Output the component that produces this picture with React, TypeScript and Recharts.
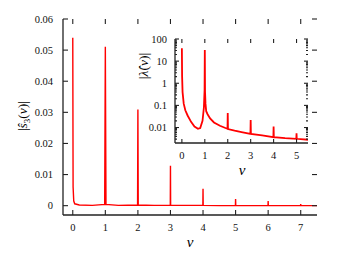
import React from "react";
import { LineChart, Line, XAxis, YAxis } from "recharts";

// main panel: |s3(nu)|
const nuMain = [
  0, 0.01, 0.03, 0.06, 0.2, 0.6, 0.98, 1.0, 1.02, 1.4, 1.99, 2.0, 2.01, 2.5,
  2.995, 3.0, 3.005, 3.5, 3.995, 4.0, 4.005, 4.5, 4.995, 5.0, 5.005, 5.5,
  5.995, 6.0, 6.005, 6.5, 6.995, 7.0, 7.005, 7.5,
];
const sMain = [
  0.054, 0.006, 0.0015, 0.0006, 0.0002, 0.0001, 0.0004, 0.0511, 0.0004,
  0.0001, 0.0002, 0.0309, 0.0002, 0.0001, 0.0001, 0.0128, 0.0001, 0.0001,
  0.0001, 0.0054, 0.0001, 0.0, 0.0, 0.0021, 0.0, 0.0, 0.0, 0.0015, 0.0, 0.0,
  0.0, 0.0005, 0.0, 0.0,
];
const mainXTicks = [0, 1, 2, 3, 4, 5, 6, 7];
const mainYTicks = [0, 0.01, 0.02, 0.03, 0.04, 0.05, 0.06];

// inset: |lambda(nu)| on log scale
const nuInset = [
  0, 0.01, 0.03, 0.08, 0.15, 0.25, 0.4, 0.55, 0.7, 0.8, 0.9, 0.96, 0.99, 1.0,
  1.01, 1.03, 1.06, 1.12, 1.23, 1.4, 1.66, 1.9, 1.99, 2.0, 2.01, 2.3, 2.6,
  2.99, 3.0, 3.01, 3.5, 3.99, 4.0, 4.01, 4.5, 4.99, 5.0, 5.01, 5.5,
];
const lamInset = [
  38, 2, 0.4, 0.12, 0.06, 0.035, 0.018, 0.011, 0.0087, 0.0095, 0.02, 0.08,
  0.5, 32, 0.4, 0.12, 0.055, 0.04, 0.026, 0.017, 0.012, 0.0095, 0.0088, 0.045,
  0.0085, 0.0072, 0.0062, 0.0052, 0.022, 0.0051, 0.0044, 0.0037, 0.011,
  0.0037, 0.0033, 0.0031, 0.0055, 0.0031, 0.0028,
];
const insetXTicks = [0, 1, 2, 3, 4, 5];
const insetMajor = [0.01, 0.1, 1, 10, 100];
const insetMinor = [
  0.003, 0.004, 0.005, 0.006, 0.007, 0.008, 0.009, 0.02, 0.03, 0.04,
  0.05, 0.06, 0.07, 0.08, 0.09, 0.2, 0.3, 0.4, 0.5, 0.6, 0.7, 0.8, 0.9, 2, 3,
  4, 5, 6, 7, 8, 9, 20, 30, 40, 50, 60, 70, 80, 90,
];

const mainData = nuMain.map((nu, i) => ({ nu, s: sMain[i] }));
const insetData = nuInset.map((nu, i) => ({ nu, lam: lamInset[i] }));
const insetYTicks = [...insetMinor, ...insetMajor].sort((a, b) => a - b);

const FONT = "Liberation Serif";
const AX = "#222";
const RED = "#ff0000";

// inward ticks on both sides of the frame; `span` is the plot size across
const xTick = (len: number, labelOff: number, span: number) => (props: any) => {
  const { x, y, payload } = props;
  return (
    <g>
      <line x1={x} y1={y} x2={x} y2={y - len} stroke={AX} strokeWidth={1.1} />
      <line x1={x} y1={y - span} x2={x} y2={y - span + len} stroke={AX} strokeWidth={1.1} />
      <text x={x} y={y + labelOff} dy="0.35em" textAnchor="middle" fontSize={10.5} fontFamily={FONT} fill="#111">
        {String(payload.value)}
      </text>
    </g>
  );
};

const yTick = (len: number, labelOff: number, span: number, major?: number[]) => (props: any) => {
  const { x, y, payload } = props;
  const v = payload.value;
  const isMajor = !major || major.includes(v);
  const l = isMajor ? len : len / 2;
  return (
    <g>
      <line x1={x} y1={y} x2={x + l} y2={y} stroke={AX} strokeWidth={1.1} />
      <line x1={x + span} y1={y} x2={x + span - l} y2={y} stroke={AX} strokeWidth={1.1} />
      {isMajor && (
        <text x={x - labelOff} y={y} dy="0.35em" textAnchor="end" fontSize={10.5} fontFamily={FONT} fill="#111">
          {String(v)}
        </text>
      )}
    </g>
  );
};

const frame = { stroke: AX, strokeWidth: 1.3 };

const App = () => {
  return (
    <div style={{ position: "absolute", left: 0, top: 0, width: 339, height: 261, background: "#fff" }}>
      <div style={{ position: "absolute", left: 0, top: 0 }}>
        <LineChart width={339} height={261} data={mainData} margin={{ top: 19, right: 22, left: 0, bottom: 0 }}>
          <XAxis
            dataKey="nu"
            type="number"
            domain={[-0.3, 7.5]}
            allowDataOverflow
            ticks={mainXTicks}
            height={46}
            tickLine={false}
            tickSize={0}
            tickMargin={0}
            interval={0}
            axisLine={frame}
            tick={xTick(5, 12, 196)}
          />
          <XAxis xAxisId="top" orientation="top" height={0} axisLine={frame} tick={false} tickLine={false} />
          <YAxis
            type="number"
            domain={[-0.003, 0.06]}
            allowDataOverflow
            ticks={mainYTicks}
            width={63}
            tickLine={false}
            tickSize={0}
            tickMargin={0}
            interval={0}
            axisLine={frame}
            tick={yTick(5, 10, 254)}
          />
          <YAxis yAxisId="right" orientation="right" width={0} axisLine={frame} tick={false} tickLine={false} />
          <Line
            type="linear"
            dataKey="s"
            stroke={RED}
            strokeWidth={1.4}
            dot={false}
            isAnimationActive={false}
          />
          <text x={190} y={242} textAnchor="middle" dy="0.35em" fontSize={15} fontStyle="italic" fontFamily={FONT}>
            ν
          </text>
          <text
            x={22}
            y={116}
            textAnchor="middle"
            dy="0.35em"
            fontSize={13.5}
            fontFamily={FONT}
            transform="rotate(-90 22 116)"
          >
            |<tspan fontStyle="italic">ŝ</tspan>
            <tspan fontSize={9} dy={3}>3</tspan>
            <tspan dy={-3}>(</tspan>
            <tspan fontStyle="italic">ν</tspan>)|
          </text>
        </LineChart>
      </div>
      <div style={{ position: "absolute", left: 130, top: 0 }}>
        <LineChart width={200} height={190} data={insetData} margin={{ top: 39, right: 22, left: 0, bottom: 0 }}>
          <XAxis
            dataKey="nu"
            type="number"
            domain={[-0.3, 5.5]}
            allowDataOverflow
            ticks={insetXTicks}
            height={47}
            tickLine={false}
            tickSize={0}
            tickMargin={0}
            interval={0}
            axisLine={frame}
            tick={xTick(4, 12, 104)}
          />
          <XAxis xAxisId="top" orientation="top" height={0} axisLine={frame} tick={false} tickLine={false} />
          <YAxis
            type="number"
            scale="log"
            domain={[0.002, 100]}
            allowDataOverflow
            ticks={insetYTicks}
            width={45}
            tickLine={false}
            tickSize={0}
            tickMargin={0}
            interval={0}
            axisLine={frame}
            tick={yTick(4, 8, 133, insetMajor)}
          />
          <YAxis yAxisId="right" orientation="right" width={0} axisLine={frame} tick={false} tickLine={false} />
          <Line
            type="linear"
            dataKey="lam"
            stroke={RED}
            strokeWidth={1.8}
            dot={false}
            isAnimationActive={false}
          />
          <text x={112} y={170} textAnchor="middle" dy="0.35em" fontSize={15} fontStyle="italic" fontFamily={FONT}>
            ν
          </text>
          <text
            x={13}
            y={66}
            textAnchor="middle"
            dy="0.35em"
            fontSize={13.5}
            fontFamily={FONT}
            transform="rotate(-90 13 66)"
          >
            |<tspan fontStyle="italic">λ̂</tspan>(<tspan fontStyle="italic">ν</tspan>)|
          </text>
        </LineChart>
      </div>
    </div>
  );
};

export default App;
